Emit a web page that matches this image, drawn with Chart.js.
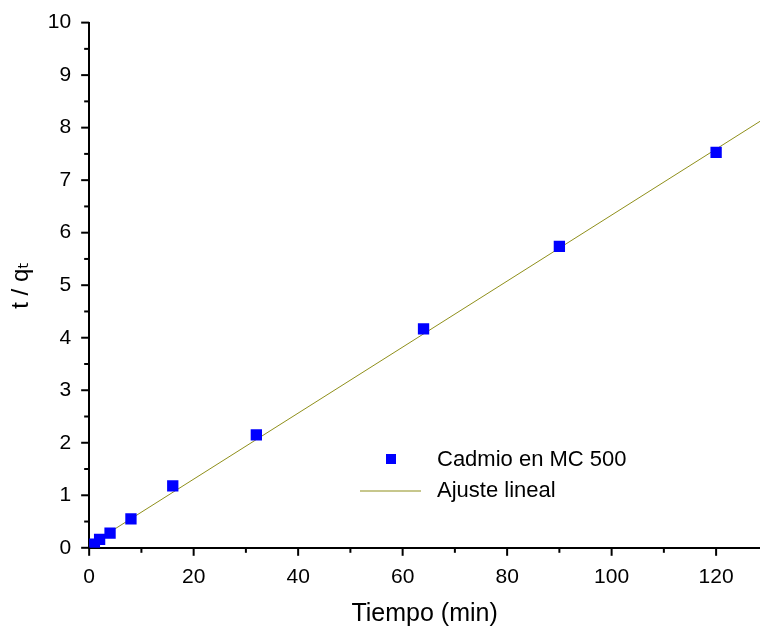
<!DOCTYPE html>
<html>
<head>
<meta charset="utf-8">
<script src="https://cdn.jsdelivr.net/npm/chart.js@4.4.0/dist/chart.umd.min.js"></script>
<style>
  html, body { margin: 0; padding: 0; background: #fff; }
  #wrap { width: 760px; height: 629px; }
</style>
</head>
<body>
<div id="wrap"><canvas id="chart" width="760" height="629"></canvas></div>
<script>
// measured points (t in min, t/qt)
const tiempo = [1, 2, 4, 8, 16, 32, 64, 90, 120];
const tq = [0.07, 0.16, 0.28, 0.55, 1.18, 2.15, 4.17, 5.74, 7.53];

// linear fit endpoints
const fitX = [0, 128.4];
const fitY = [0.05, 8.12];

const xTicks = [0, 10, 20, 30, 40, 50, 60, 70, 80, 90, 100, 110, 120];
const seriesNames = ['Cadmio en MC 500', 'Ajuste lineal'];
const xTitle = 'Tiempo (min)';
const yTitle = 't / q\u209C';

const ctx = document.getElementById('chart');
const font = '"Liberation Sans", Arial, sans-serif';

// major + minor ticks drawn outward, legend inside the plot
const extras = {
  id: 'extras',
  afterDraw(chart) {
    const c = chart.ctx;
    const xs = chart.scales.x;
    const ys = chart.scales.y;
    c.save();
    c.strokeStyle = '#000';
    c.lineWidth = 2;
    xTicks.forEach((v) => {
      const px = xs.getPixelForValue(v);
      const len = v % 20 === 0 ? 8 : 5;
      c.beginPath();
      c.moveTo(px, ys.bottom);
      c.lineTo(px, ys.bottom + len);
      c.stroke();
    });
    for (let v = 0; v <= 10; v += 0.5) {
      const py = ys.getPixelForValue(v);
      const len = Number.isInteger(v) ? 8 : 5;
      c.beginPath();
      c.moveTo(xs.left, py);
      c.lineTo(xs.left - len, py);
      c.stroke();
    }

    // legend
    const ds = chart.data.datasets;
    c.font = '22px ' + font;
    c.textBaseline = 'middle';
    c.fillStyle = ds[0].backgroundColor;
    c.fillRect(386, 454, 10, 10);
    c.fillStyle = '#000';
    c.fillText(ds[0].label, 437, 460);
    c.strokeStyle = ds[1].borderColor;
    c.lineWidth = 1;
    c.beginPath();
    c.moveTo(360, 491);
    c.lineTo(421, 491);
    c.stroke();
    c.fillStyle = '#000';
    c.fillText(ds[1].label, 437, 491);
    c.restore();
  }
};

new Chart(ctx, {
  type: 'scatter',
  data: {
    datasets: [
      {
        label: seriesNames[0],
        data: tiempo.map((t, i) => ({ x: t, y: tq[i] })),
        pointStyle: 'rect',
        pointRadius: 8,
        backgroundColor: '#0000ff',
        borderColor: '#0000ff',
        borderWidth: 0,
        order: 1,
      },
      {
        label: seriesNames[1],
        type: 'line',
        data: fitX.map((x, i) => ({ x: x, y: fitY[i] })),
        borderColor: '#8f8f1a',
        borderWidth: 1,
        pointRadius: 0,
        fill: false,
        order: 2,
      },
    ],
  },
  options: {
    responsive: false,
    animation: false,
    layout: {
      autoPadding: false,
      padding: { top: 4, right: 0, left: 0, bottom: 0 },
    },
    scales: {
      x: {
        type: 'linear',
        min: 0,
        max: 128.4,
        afterBuildTicks: (scale) => {
          scale.ticks = xTicks.map((v) => ({ value: v }));
        },
        grid: { display: false },
        border: { display: true, color: '#000', width: 2 },
        ticks: {
          padding: 9,
          maxRotation: 0,
          autoSkip: false,
          color: '#000',
          font: { family: font, size: 21 },
          callback: (v) => (v % 20 === 0 ? v : ''),
        },
        title: {
          display: true,
          text: xTitle,
          color: '#000',
          padding: { top: 0, bottom: 0 },
          font: { family: font, size: 25 },
        },
      },
      y: {
        min: 0,
        max: 10,
        grid: { display: false },
        border: { display: true, color: '#000', width: 2 },
        ticks: {
          stepSize: 0.5,
          padding: 10,
          autoSkip: false,
          color: '#000',
          font: { family: font, size: 21 },
          callback: (v) => (Number.isInteger(v) ? v : ''),
        },
        title: {
          display: true,
          text: yTitle,
          color: '#000',
          padding: { top: 7, bottom: 2 },
          font: { family: '"Liberation Sans", "DejaVu Sans", Arial, sans-serif', size: 24 },
        },
      },
    },
    plugins: {
      legend: { display: false },
      tooltip: { enabled: false },
    },
  },
  plugins: [extras],
});
</script>
</body>
</html>
